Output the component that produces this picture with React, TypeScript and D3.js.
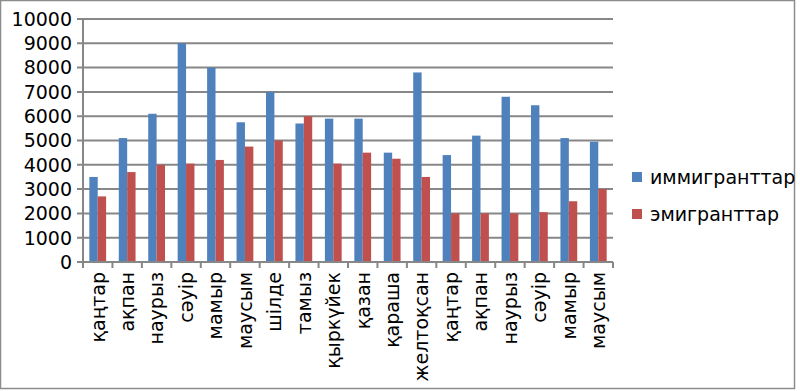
import React from 'react';
import * as d3 from 'd3';

// months (two years, Jan 1st year .. Jun 2nd year)
const months = [
  'қаңтар', 'ақпан', 'наурыз', 'сәуір', 'мамыр', 'маусым', 'шілде', 'тамыз',
  'қыркүйек', 'қазан', 'қараша', 'желтоқсан',
  'қаңтар', 'ақпан', 'наурыз', 'сәуір', 'мамыр', 'маусым'
];
const immigrants = [3500, 5100, 6100, 9000, 8000, 5750, 7000, 5700, 5900, 5900, 4500, 7800, 4400, 5200, 6800, 6450, 5100, 4950];
const emigrants = [2700, 3700, 4000, 4050, 4200, 4750, 5000, 6000, 4050, 4500, 4250, 3500, 2000, 2000, 2000, 2050, 2500, 3000];
const yTicks = [0, 1000, 2000, 3000, 4000, 5000, 6000, 7000, 8000, 9000, 10000];
const seriesNames = ['иммигранттар', 'эмигранттар'];
const seriesColors = ['#4F81BD', '#C0504D'];

const W = 800;
const H = 391;
const plot = { left: 83, right: 613, top: 19, bottom: 262 };
const font = '"DejaVu Sans", sans-serif';

export default function App() {
  const x = d3.scaleBand<number>()
    .domain(months.map((_, i) => i))
    .range([plot.left, plot.right])
    .paddingInner(0.43)
    .paddingOuter(0.215);
  const y = d3.scaleLinear().domain([0, 10000]).range([plot.bottom, plot.top]);
  const barW = x.bandwidth() / 2;
  const step = x.step();
  const series = [immigrants, emigrants];

  return (
    <svg width={W} height={H} style={{ position: 'absolute', left: 0, top: 0 }} fontFamily={font}>
      <rect x={0} y={0} width={W} height={H} fill="#fff" />
      <rect x={0.5} y={0.5} width={794} height={388} fill="none" stroke="#8c8c8c" strokeWidth={1.5} />

      {/* gridlines + y ticks */}
      {yTicks.map(t => (
        <g key={t}>
          <line x1={plot.left - 6} x2={plot.right} y1={y(t)} y2={y(t)} stroke="#878787" strokeWidth={2} />
          <text x={72} y={y(t)} dy="0.36em" textAnchor="end" fontSize={19} fill="#000">{t}</text>
        </g>
      ))}
      <line x1={plot.left} x2={plot.left} y1={plot.top} y2={plot.bottom} stroke="#878787" strokeWidth={2} />

      {/* bars */}
      {series.map((vals, s) => vals.map((v, i) => (
        <rect key={s + '-' + i}
          x={(x(i) as number) + s * barW}
          y={y(v)}
          width={barW}
          height={y(0) - y(v)}
          fill={seriesColors[s]} />
      )))}

      {/* x axis + ticks */}
      <line x1={plot.left} x2={plot.right} y1={plot.bottom} y2={plot.bottom} stroke="#878787" strokeWidth={2} />
      {d3.range(months.length + 1).map(i => (
        <line key={i} x1={plot.left + i * step} x2={plot.left + i * step} y1={plot.bottom} y2={plot.bottom + 6} stroke="#878787" strokeWidth={2} />
      ))}
      {months.map((m, i) => (
        <text key={i}
          transform={`translate(${(x(i) as number) + x.bandwidth() / 2},272) rotate(-90)`}
          dy="0.36em" textAnchor="end" fontSize={19} fill="#000">{m}</text>
      ))}

      {/* legend */}
      {seriesNames.map((n, i) => (
        <g key={n} transform={`translate(632,${172 + i * 37})`}>
          <rect x={0} y={0} width={10} height={10} fill={seriesColors[i]} />
          <text x={18} y={5} dy="0.36em" fontSize={19} fill="#000">{n}</text>
        </g>
      ))}
    </svg>
  );
}
